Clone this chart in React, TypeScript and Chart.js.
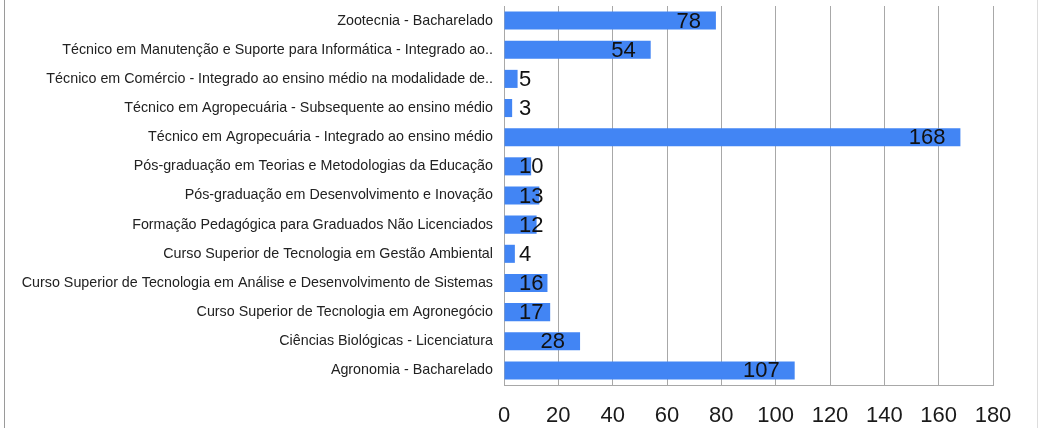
import React, { useEffect, useRef } from "react";
import { Chart, registerables } from "chart.js";

Chart.register(...registerables);

const categories: string[] = [
  "Zootecnia - Bacharelado",
  "Técnico em Manutenção e Suporte para Informática - Integrado ao..",
  "Técnico em Comércio - Integrado ao ensino médio na modalidade de..",
  "Técnico em Agropecuária - Subsequente ao ensino médio",
  "Técnico em Agropecuária - Integrado ao ensino médio",
  "Pós-graduação em Teorias e Metodologias da Educação",
  "Pós-graduação em Desenvolvimento e Inovação",
  "Formação Pedagógica para Graduados Não Licenciados",
  "Curso Superior de Tecnologia em Gestão Ambiental",
  "Curso Superior de Tecnologia em Análise e Desenvolvimento de Sistemas",
  "Curso Superior de Tecnologia em Agronegócio",
  "Ciências Biológicas - Licenciatura",
  "Agronomia - Bacharelado",
];

const values: number[] = [78, 54, 5, 3, 168, 10, 13, 12, 4, 16, 17, 28, 107];

const xMin = 0;
const xMax = 180;
const xStep = 20;

const FONT = "'Liberation Sans', Arial, sans-serif";

const valueLabelPlugin = {
  id: "valueLabels",
  afterDatasetsDraw(chart: any) {
    const ctx = chart.ctx;
    const meta = chart.getDatasetMeta(0);
    const xScale = chart.scales.x;
    ctx.save();
    ctx.font = `22px ${FONT}`;
    ctx.fillStyle = "#111111";
    ctx.textAlign = "left";
    ctx.textBaseline = "middle";
    meta.data.forEach((bar: any, i: number) => {
      const text = String(values[i]);
      const w = ctx.measureText(text).width;
      const x = Math.max(bar.x - 15 - w, xScale.left + 15);
      ctx.fillText(text, x, bar.y + 1);
    });
    ctx.restore();
  },
};

const framePlugin = {
  id: "frame",
  beforeDraw(chart: any) {
    const ctx = chart.ctx;
    ctx.save();
    ctx.fillStyle = "#ffffff";
    ctx.fillRect(0, 0, chart.width, chart.height);
    ctx.strokeStyle = "#9a9a9a";
    ctx.lineWidth = 1;
    ctx.beginPath();
    ctx.moveTo(4.5, 0);
    ctx.lineTo(4.5, chart.height);
    ctx.stroke();
    ctx.strokeStyle = "#dddddd";
    ctx.beginPath();
    ctx.moveTo(chart.width - 1.5, 0);
    ctx.lineTo(chart.width - 1.5, chart.height);
    ctx.stroke();
    ctx.restore();
  },
};

export default function App() {
  const canvasRef = useRef<HTMLCanvasElement | null>(null);

  useEffect(() => {
    if (!canvasRef.current) return;
    const chart = new Chart(canvasRef.current, {
      type: "bar",
      data: {
        labels: categories,
        datasets: [
          {
            data: values,
            backgroundColor: "#4285f4",
            borderWidth: 0,
            barPercentage: 0.62,
            categoryPercentage: 1,
          },
        ],
      },
      options: {
        indexAxis: "y",
        responsive: false,
        animation: false,
        maintainAspectRatio: false,
        layout: { padding: { top: 6, right: 46, left: 0, bottom: 0 } },
        plugins: {
          legend: { display: false },
          tooltip: { enabled: false },
          title: { display: false },
        },
        scales: {
          x: {
            min: xMin,
            max: xMax,
            ticks: {
              stepSize: xStep,
              color: "#1a1a1a",
              font: { family: FONT, size: 22 },
              padding: 18,
            },
            grid: {
              color: "#a8a8a8",
              drawTicks: false,
              lineWidth: 1,
            },
            border: { color: "#a8a8a8" },
            afterFit(scale: any) {
              scale.height = 43;
              scale.paddingLeft = 0;
              scale.paddingRight = 0;
            },
          },
          y: {
            ticks: {
              color: "#222222",
              font: { family: FONT, size: 14.3 },
              padding: 11,
              autoSkip: false,
            },
            grid: { display: false, drawTicks: false },
            border: { color: "#a8a8a8" },
            afterFit(scale: any) {
              scale.width = 504;
              scale.paddingTop = 0;
              scale.paddingBottom = 0;
            },
          },
        },
      },
      plugins: [framePlugin, valueLabelPlugin],
    });
    return () => chart.destroy();
  }, []);

  return (
    <div style={{ position: "fixed", left: 0, top: 0, width: 1039, height: 428, background: "#fff" }}>
      <canvas ref={canvasRef} width={1039} height={428} style={{ display: "block" }} />
    </div>
  );
}
